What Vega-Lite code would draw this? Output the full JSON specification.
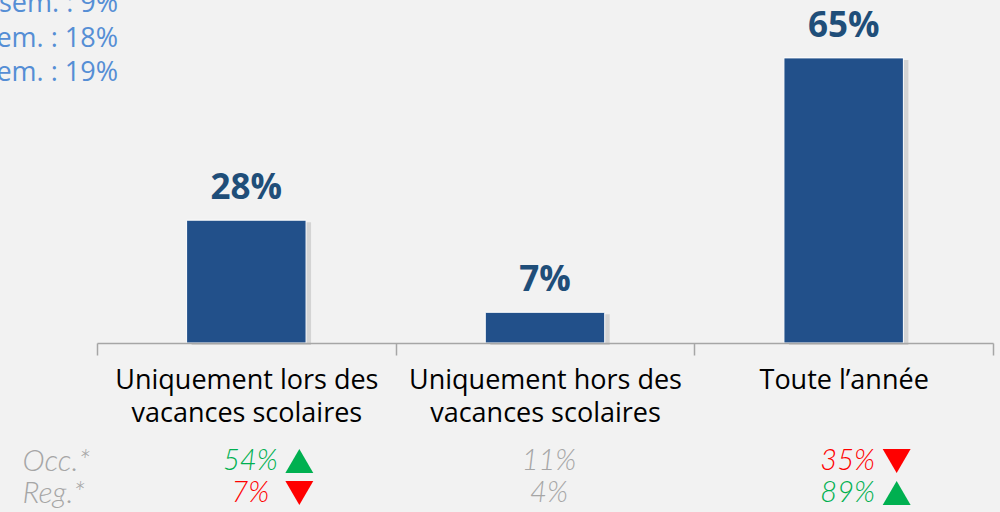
{
  "$schema": "https://vega.github.io/schema/vega-lite/v6.json",
  "width": 896,
  "height": 343,
  "autosize": {"type": "none"},
  "padding": {"left": 97, "top": 0, "right": 7, "bottom": 169},
  "background": "#f2f2f2",
  "config": {"view": {"stroke": null}, "font": "Open Sans"},
  "datasets": {
    "bars": [
      {"cat": "Uniquement lors des|vacances scolaires", "pct": 28},
      {"cat": "Uniquement hors des|vacances scolaires", "pct": 7},
      {"cat": "Toute l’année", "pct": 65}
    ],
    "table": [
      {"cat": "Uniquement lors des|vacances scolaires", "row": "Occ.*", "value": "54%", "trend": "up"},
      {"cat": "Uniquement lors des|vacances scolaires", "row": "Reg.*", "value": "7%", "trend": "down"},
      {"cat": "Uniquement hors des|vacances scolaires", "row": "Occ.*", "value": "11%", "trend": "none"},
      {"cat": "Uniquement hors des|vacances scolaires", "row": "Reg.*", "value": "4%", "trend": "none"},
      {"cat": "Toute l’année", "row": "Occ.*", "value": "35%", "trend": "down"},
      {"cat": "Toute l’année", "row": "Reg.*", "value": "89%", "trend": "up"}
    ],
    "legend": [
      {"line": "a", "text": "sem. : 9%"},
      {"line": "b", "text": "em. : 18%"},
      {"line": "c", "text": "em. : 19%"}
    ]
  },
  "resolve": {"scale": {"y": "independent", "color": "independent"}, "axis": {"y": "independent"}},
  "layer": [
    {
      "data": {"name": "bars"},
      "mark": {"type": "bar", "width": {"band": 0.4}, "color": "#000000", "opacity": 0.12, "xOffset": 5, "yOffset": 2},
      "encoding": {
        "x": {
          "field": "cat", "type": "nominal", "sort": null,
          "scale": {"paddingInner": 0, "paddingOuter": 0},
          "axis": {
            "title": null, "labelAngle": 0, "tickBand": "extent", "labelLimit": 0, "zindex": 1,
            "domainColor": "#a6a6a6", "domainWidth": 1.5,
            "tickColor": "#a6a6a6", "tickWidth": 1.5, "tickSize": 12,
            "labelFontSize": 27, "labelColor": "#000000", "labelFont": "Open Sans",
            "labelPadding": 12, "labelLineHeight": 33, "labelBaseline": "top",
            "labelExpr": "split(datum.label, '|')"
          }
        },
        "y": {"field": "pct", "type": "quantitative", "scale": {"domain": [0, 78.2]}, "axis": null}
      }
    },
    {
      "data": {"name": "bars"},
      "mark": {"type": "bar", "width": {"band": 0.4}, "color": "#22508a", "stroke": "#ffffff", "strokeWidth": 1},
      "encoding": {
        "x": {"field": "cat", "type": "nominal", "sort": null},
        "y": {"field": "pct", "type": "quantitative", "scale": {"domain": [0, 78.2]}, "axis": null}
      }
    },
    {
      "data": {"name": "bars"},
      "transform": [{"calculate": "datum.pct + '%'", "as": "lbl"}],
      "mark": {"type": "text", "fontSize": 35, "fontWeight": "bold", "color": "#1f4e79", "baseline": "alphabetic", "dy": -21},
      "encoding": {
        "x": {"field": "cat", "type": "nominal", "sort": null},
        "y": {"field": "pct", "type": "quantitative", "scale": {"domain": [0, 78.2]}, "axis": null},
        "text": {"field": "lbl"}
      }
    },
    {
      "data": {"name": "table"},
      "mark": {"type": "text", "fontSize": 29, "fontStyle": "italic", "fontWeight": 300, "font": "Lato", "dx": 4, "baseline": "middle"},
      "encoding": {
        "x": {"field": "cat", "type": "nominal", "sort": null},
        "y": {
          "field": "row", "type": "nominal",
          "scale": {"type": "point", "domain": ["Occ.*", "Reg.*"], "range": [461, 493], "padding": 0},
          "axis": {
            "orient": "left", "title": null, "domain": false, "ticks": false, "tickSize": 0, "grid": false,
            "labelPadding": 75, "labelAlign": "left", "labelBaseline": "middle",
            "labelFont": "Lato", "labelFontStyle": "italic", "labelFontWeight": 300, "labelFontSize": 30, "labelColor": "#a6a6a6"
          }
        },
        "text": {"field": "value"},
        "color": {
          "field": "trend", "type": "nominal",
          "scale": {"domain": ["up", "down", "none"], "range": ["#00b050", "#ff0000", "#a6a6a6"]},
          "legend": null
        }
      }
    },
    {
      "data": {"name": "table"},
      "transform": [{"filter": "datum.trend != 'none'"}],
      "mark": {"type": "point", "filled": true, "size": 780, "xOffset": 53, "opacity": 1},
      "encoding": {
        "x": {"field": "cat", "type": "nominal", "sort": null},
        "y": {
          "field": "row", "type": "nominal",
          "scale": {"type": "point", "domain": ["Occ.*", "Reg.*"], "range": [461, 493], "padding": 0},
          "axis": null
        },
        "shape": {
          "field": "trend", "type": "nominal",
          "scale": {"domain": ["up", "down"], "range": ["triangle-up", "triangle-down"]},
          "legend": null
        },
        "color": {
          "field": "trend", "type": "nominal",
          "scale": {"domain": ["up", "down"], "range": ["#00b050", "#ff0000"]},
          "legend": null
        }
      }
    },
    {
      "data": {"name": "legend"},
      "mark": {"type": "text", "fontSize": 27, "color": "#558ed5", "align": "right", "baseline": "middle", "dx": 21},
      "encoding": {
        "x": {"datum": "Uniquement lors des|vacances scolaires", "type": "nominal", "bandPosition": 0},
        "y": {
          "field": "line", "type": "nominal",
          "scale": {"type": "point", "domain": ["a", "b", "c"], "range": [4, 73], "padding": 0},
          "axis": null
        },
        "text": {"field": "text"}
      }
    }
  ]
}
